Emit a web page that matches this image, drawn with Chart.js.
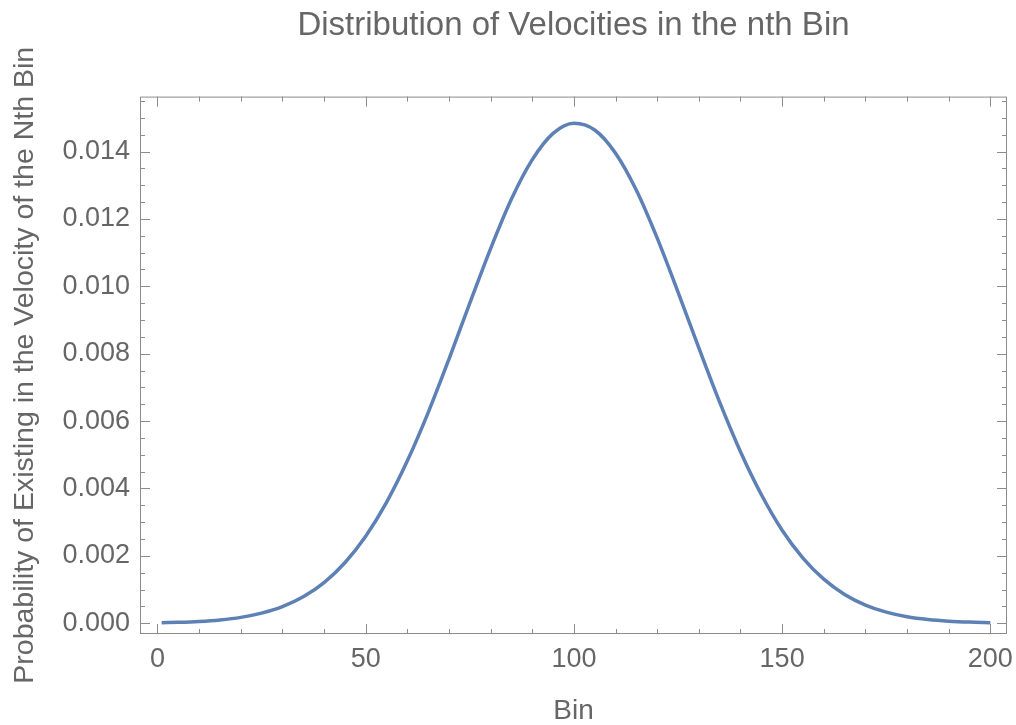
<!DOCTYPE html>
<html>
<head>
<meta charset="utf-8">
<script src="https://cdn.jsdelivr.net/npm/chart.js@4.4.1/dist/chart.umd.min.js"></script>
<style>
  body { margin: 0; background: #fff; }
</style>
</head>
<body>
<canvas id="myChart" width="1016" height="725"></canvas>
<script>
// bins (every 5th bin)
const bins = [1, 5, 10, 15, 20, 25, 30, 35, 40, 45, 50, 55, 60, 65, 70, 75, 80, 85, 90, 95, 100,
  105, 110, 115, 120, 125, 130, 135, 140, 145, 150, 155, 160, 165, 170, 175, 180, 185, 190, 195, 200];
const probabilities = [0.0000167, 0.0000285, 0.0000539, 0.0000987, 0.000174, 0.000298, 0.000491,
  0.000783, 0.001205, 0.001794, 0.00258, 0.003587, 0.004819, 0.006252, 0.00784, 0.0095, 0.01112,
  0.01259, 0.01376, 0.01454, 0.01484, 0.01464, 0.01395, 0.01285, 0.01143, 0.00983, 0.00817, 0.00656,
  0.00509, 0.00382, 0.00276, 0.001935, 0.001309, 0.000855, 0.00054, 0.00033, 0.000194, 0.000111,
  0.000061, 0.0000325, 0.0000167];

const xTickValues = [0, 50, 100, 150, 200];
const yTickValues = [0, 0.002, 0.004, 0.006, 0.008, 0.010, 0.012, 0.014];

const textColor = "#666666";
const frameColor = "#8c8c8c";
const fontFamily = "'Liberation Sans', Arial, sans-serif";

// frame with inward ticks on all four sides, like Mathematica
const framePlugin = {
  id: "frame",
  afterDatasetsDraw(chart) {
    const { ctx, chartArea: a, scales } = chart;
    const xs = scales.x;
    const ys = scales.y;
    ctx.save();
    ctx.strokeStyle = frameColor;
    ctx.lineWidth = 1;
    ctx.strokeRect(a.left + 0.5, a.top + 0.5, a.right - a.left - 1, a.bottom - a.top - 1);

    ctx.beginPath();
    for (let v = 0; v <= 200; v += 10) {
      const len = v % 50 === 0 ? 10 : 5;
      const px = Math.round(xs.getPixelForValue(v)) + 0.5;
      ctx.moveTo(px, a.bottom);
      ctx.lineTo(px, a.bottom - len);
      ctx.moveTo(px, a.top);
      ctx.lineTo(px, a.top + len);
    }
    for (let i = 0; i <= 31; i++) {
      const v = i * 0.0005;
      const len = i % 4 === 0 ? 10 : 5;
      const py = Math.round(ys.getPixelForValue(v)) + 0.5;
      ctx.moveTo(a.left, py);
      ctx.lineTo(a.left + len, py);
      ctx.moveTo(a.right, py);
      ctx.lineTo(a.right - len, py);
    }
    ctx.stroke();
    ctx.restore();
  },
};

const ctx = document.getElementById("myChart");

new Chart(ctx, {
  type: "line",
  data: {
    datasets: [
      {
        data: bins.map((b, i) => ({ x: b, y: probabilities[i] })),
        borderColor: "#5E81B5",
        borderWidth: 3.5,
        pointRadius: 0,
        fill: false,
        cubicInterpolationMode: "monotone",
      },
    ],
  },
  options: {
    responsive: false,
    animation: false,
    layout: { padding: { top: 0, right: 9, bottom: 0, left: 0 } },
    plugins: {
      legend: { display: false },
      tooltip: { enabled: false },
      title: {
        display: true,
        fullSize: false,
        text: "Distribution of Velocities in the nth Bin",
        color: textColor,
        font: { family: fontFamily, size: 33, weight: "normal" },
        padding: { top: 6, bottom: 51 },
      },
    },
    scales: {
      x: {
        type: "linear",
        min: -4.2,
        max: 204,
        grid: { display: false, drawTicks: false },
        border: { display: false },
        afterBuildTicks: (scale) => {
          scale.ticks = xTickValues.map((v) => ({ value: v }));
        },
        afterFit: (scale) => {
          scale.height = 91;
          scale.paddingLeft = 0;
          scale.paddingRight = 0;
        },
        ticks: {
          color: textColor,
          padding: 9,
          maxRotation: 0,
          font: { family: fontFamily, size: 27 },
          callback: (v) => String(v),
        },
        title: {
          display: true,
          text: "Bin",
          color: textColor,
          font: { family: fontFamily, size: 28, lineHeight: 1 },
          padding: { top: 0, bottom: 0 },
        },
      },
      y: {
        type: "linear",
        min: -0.00032,
        max: 0.01563,
        grid: { display: false, drawTicks: false },
        border: { display: false },
        afterBuildTicks: (scale) => {
          scale.ticks = yTickValues.map((v) => ({ value: v }));
        },
        afterFit: (scale) => {
          scale.width = 140;
          scale.paddingTop = 0;
          scale.paddingBottom = 0;
        },
        ticks: {
          color: textColor,
          padding: 10,
          font: { family: fontFamily, size: 27 },
          callback: (v) => Number(v).toFixed(3),
        },
        title: {
          display: true,
          text: "Probability of Existing in the Velocity of the Nth Bin",
          color: textColor,
          font: { family: fontFamily, size: 28.5, lineHeight: 1 },
          padding: { top: 11, bottom: 0 },
        },
      },
    },
  },
  plugins: [framePlugin],
});
</script>
</body>
</html>
